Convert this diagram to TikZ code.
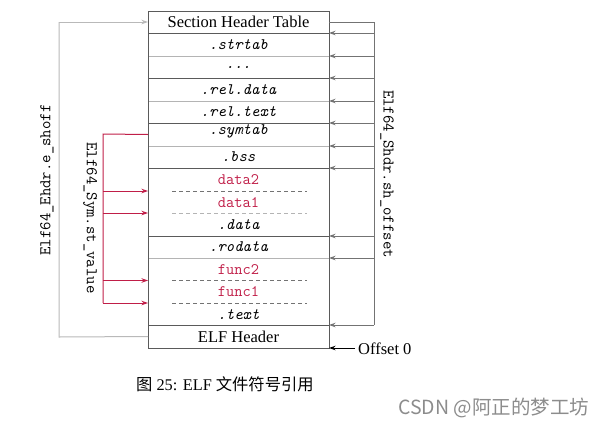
\documentclass[tikz,border=0pt]{standalone}
\usepackage{fontspec}
\setmainfont{Liberation Serif}
\newfontfamily\cjk{Noto Sans CJK SC}
\usetikzlibrary{arrows.meta}
\definecolor{symred}{RGB}{192,30,72}
\definecolor{boxgray}{RGB}{90,90,90}
\definecolor{lightsep}{RGB}{180,180,180}
\definecolor{arrgray}{RGB}{115,115,115}
\definecolor{leftgray}{RGB}{185,185,185}
\begin{document}
\begin{tikzpicture}[x=1pt,y=-1pt,
  row/.style={minimum width=181pt, inner sep=0pt, outer sep=0pt},
  sectxt/.style={font=\fontsize{16}{17}\selectfont\ttfamily\itshape},
  symtxt/.style={font=\fontsize{16}{17}\selectfont\ttfamily, text=symred, inner sep=0pt},
  sertxt/.style={font=\fontsize{16.5}{17}\selectfont},
  lbl/.style={font=\fontsize{16.3}{17}\selectfont\ttfamily, inner sep=0pt},
  darksep/.style={draw=boxgray, line width=1pt},
  litesep/.style={draw=lightsep, line width=1pt},
  darkdash/.style={draw=boxgray!85, line width=1pt, dash pattern=on 4pt off 3pt},
  litedash/.style={draw=lightsep, line width=1pt, dash pattern=on 4pt off 3pt},
  rarrow/.style={draw=arrgray, line width=1pt, -{Stealth[length=6.5pt,width=4.5pt]}},
  larrow/.style={draw=leftgray, line width=1pt, -{Stealth[length=6.5pt,width=4.5pt]}},
  redarrow/.style={draw=symred, line width=1pt, -{Stealth[length=6.5pt,width=4.5pt]}},
]
\useasboundingbox (0,0) rectangle (605,426);

% rows
\node[row, minimum height=22pt, sertxt] (sht) at (238.5,22) {Section Header Table};
\node[row, minimum height=23pt, sectxt] (strtab) at (238.5,44.5) {.strtab};
\node[row, minimum height=22pt, sectxt] (dots) at (238.5,67) {...};
\node[row, minimum height=23pt, sectxt] (reldata) at (238.5,89.5) {.rel.data};
\node[row, minimum height=22pt, sectxt] (reltext) at (238.5,112) {.rel.text};
\node[row, minimum height=23pt] (symtab) at (238.5,134.5) {};
\node[sectxt, inner sep=0pt] (symtabt) at (238.5,131) {.symtab};
\node[row, minimum height=22pt, sectxt] (bss) at (238.5,157) {.bss};
\node[row, minimum height=68pt] (datablk) at (238.5,202) {};
\node[symtxt] (data2) at (238.5,180) {data2};
\node[symtxt] (data1) at (238.5,202.5) {data1};
\node[sectxt, inner sep=0pt] (datat) at (238.5,225) {.data};
\node[row, minimum height=22pt, sectxt] (rodata) at (238.5,247) {.rodata};
\node[row, minimum height=67pt] (textblk) at (238.5,291.5) {};
\node[symtxt] (func2) at (238.5,269.5) {func2};
\node[symtxt] (func1) at (238.5,292) {func1};
\node[sectxt, inner sep=0pt] (textt) at (238.5,314.5) {.text};
\node[row, minimum height=23pt, sertxt] (elfh) at (238.5,336.5) {ELF Header};

% separators
\draw[darksep] (sht.south west) -- (sht.south east);
\draw[litesep] (strtab.south west) -- (strtab.south east);
\draw[darksep] (dots.south west) -- (dots.south east);
\draw[litesep] (reldata.south west) -- (reldata.south east);
\draw[darksep] (reltext.south west) -- (reltext.south east);
\draw[litesep] (symtab.south west) -- (symtab.south east);
\draw[darksep] (bss.south west) -- (bss.south east);
\draw[darksep] (datablk.south west) -- (datablk.south east);
\draw[litesep] (rodata.south west) -- (rodata.south east);
\draw[darksep] (textblk.south west) -- (textblk.south east);
\draw[darkdash] (172,191) -- (307,191);
\draw[litedash] (172,213) -- (307,213);
\draw[darkdash] (172,280.5) -- (307,280.5);
\draw[darkdash] (172,303) -- (307,303);
% outline
\draw[boxgray, line width=1pt] (sht.north west) rectangle (elfh.south east);

% right: section header offsets
\coordinate (rtop) at (374,22);
\coordinate (rbot) at (374,325);
\draw[draw=arrgray, line width=1pt] (sht.east) -- (rtop) -- (rbot);
\foreach \n in {strtab,dots,reldata,reltext,symtab,bss,datablk,rodata,textblk}{
  \draw[rarrow] (rtop |- \n.north east) -- (\n.north east);
}
\draw[rarrow] (rbot) -- (elfh.north east);
\node[lbl, rotate=-90] (shdr) at (387,174) {Elf64\_Shdr.sh\_offset};

% left: e_shoff
\coordinate (ltop) at (59,22);
\coordinate (lbot) at (59,337);
\draw[draw=leftgray, line width=1pt] (elfh.west) -- (lbot) -- (ltop);
\draw[larrow] (ltop) -- (sht.west);
\node[lbl, rotate=90] (ehdr) at (47,180) {Elf64\_Ehdr.e\_shoff};

% red: symbol values
\coordinate (stop) at (103,134);
\coordinate (sbot) at (103,303);
\coordinate (sym2) at (148,191);
\coordinate (sym1) at (148,213);
\coordinate (sym4) at (148,280.5);
\coordinate (sym3) at (148,303);
\draw[draw=symred, line width=1pt] (symtab.west) -- (stop) -- (sbot);
\foreach \c in {sym2,sym1,sym4}{
  \draw[redarrow] (stop |- \c) -- (\c);
}
\draw[redarrow] (sbot) -- (sym3);
\node[lbl, rotate=-90] (sym) at (90,218) {Elf64\_Sym.st\_value};

% offset 0
\coordinate (off) at (355,348);
\draw[line width=1pt, -{Stealth[length=6.5pt,width=4.5pt]}] (off) -- (elfh.south east);
\node[sertxt, anchor=west, inner sep=0pt] (offt) at (358,349) {Offset 0};

% caption
\node[font=\fontsize{16.3}{17}\selectfont, anchor=west, inner sep=0pt] (cap) at (136,384) {{\cjk 图} 25: ELF {\cjk 文件符号引用}};
\node[font=\fontsize{19.5}{20}\selectfont\cjk, text=black!45, anchor=west, inner sep=0pt] (wm) at (398,408) {CSDN @阿正的梦工坊};
\end{tikzpicture}
\end{document}
